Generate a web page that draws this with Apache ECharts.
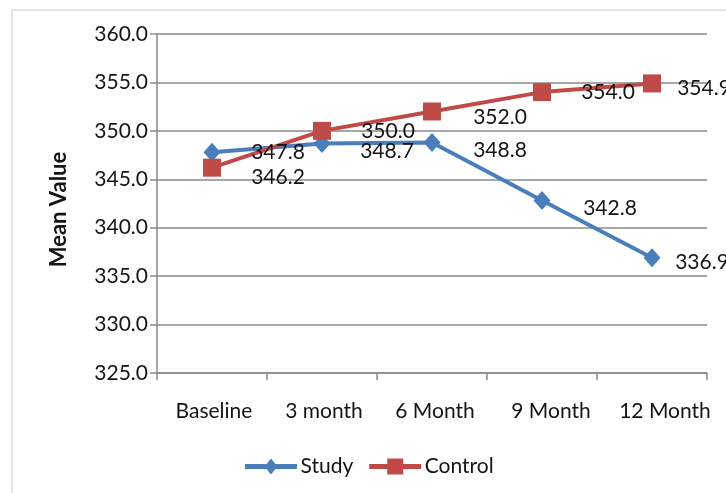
<!DOCTYPE html>
<html>
<head>
<meta charset="utf-8">
<script src="https://cdn.jsdelivr.net/npm/echarts@6/dist/echarts.min.js"></script>
<style>
  html, body { margin: 0; padding: 0; background: #ffffff; }
  #chart { width: 726px; height: 493px; }
</style>
</head>
<body>
<div id="chart"></div>
<script>
// Time points and mean values for the two groups
const categories = ['Baseline', '3 month', '6 Month', '9 Month', '12 Month'];
const studyValues = [347.8, 348.7, 348.8, 342.8, 336.9];
const controlValues = [346.2, 350.0, 352.0, 354.0, 354.9];

// Value axis range and tick step
const yMin = 325;
const yMax = 360;
const yStep = 5;

// Pixel offsets of each value label from its marker
const studyLabelOffsets = [[66, 0], [65, 8], [68, 8], [68, 8], [50, 4]];
const controlLabelOffsets = [[66, 10], [66, 0], [68, 6], [66, 0], [52, 5]];

const FONT = 'Lato';
const TEXT = '#141414';
const GRID = '#8a8a8a';
const BLUE = '#4a7ebb';
const RED = '#be4b48';

// Legend keys: a thick line segment with the series marker in the middle
const STUDY_ICON = 'path://M0,7.5 L52,7.5 L52,12.5 L0,12.5 Z M26,2 L32.5,10 L26,18 L19.5,10 Z';
const CONTROL_ICON = 'path://M0,7.5 L52,7.5 L52,12.5 L0,12.5 Z M18,2 L34,2 L34,18 L18,18 Z';

function buildData(values, offsets) {
  return values.map((v, i) => ({ value: v, label: { offset: offsets[i] } }));
}

const labelStyle = {
  show: true,
  position: 'inside',
  fontFamily: FONT,
  fontSize: 21,
  color: TEXT,
  formatter: p => Number(p.value).toFixed(1)
};

const chart = echarts.init(document.getElementById('chart'), null, { renderer: 'canvas' });

chart.setOption({
  animation: false,
  backgroundColor: '#ffffff',
  graphic: [{
    type: 'rect',
    shape: { x: 12, y: 10, width: 900, height: 700 },
    style: { fill: 'none', stroke: '#d9d9d9', lineWidth: 1.5 },
    silent: true,
    z: -10
  }],
  grid: { left: 157, top: 34, right: 19, bottom: 120 },
  legend: {
    left: 240,
    top: 451,
    itemWidth: 53,
    itemHeight: 16,
    itemGap: 16,
    textStyle: { fontFamily: FONT, fontSize: 21, color: TEXT, padding: [0, 0, 0, -2] },
    data: [
      { name: 'Study', icon: STUDY_ICON, itemStyle: { color: BLUE } },
      { name: 'Control', icon: CONTROL_ICON, itemStyle: { color: RED } }
    ]
  },
  xAxis: {
    type: 'category',
    data: categories,
    boundaryGap: true,
    axisLine: { lineStyle: { color: GRID, width: 1.5 } },
    axisTick: { show: true, length: 7, lineStyle: { color: GRID, width: 1.5 } },
    axisLabel: {
      interval: 0, fontFamily: FONT, fontSize: 21, color: TEXT, margin: 28,
      // slight rightward drift of the later category labels
      formatter: (v, i) => '{c' + i + '|' + v + '}',
      rich: {
        c0: { fontFamily: FONT, fontSize: 21, color: TEXT, padding: [0, 0, 0, 4] },
        c1: { fontFamily: FONT, fontSize: 21, color: TEXT, padding: [0, 0, 0, 4] },
        c2: { fontFamily: FONT, fontSize: 21, color: TEXT, padding: [0, 0, 0, 6] },
        c3: { fontFamily: FONT, fontSize: 21, color: TEXT, padding: [0, 0, 0, 18] },
        c4: { fontFamily: FONT, fontSize: 21, color: TEXT, padding: [0, 0, 0, 26] }
      }
    },
    splitLine: { show: false }
  },
  yAxis: {
    type: 'value',
    min: yMin,
    max: yMax,
    interval: yStep,
    name: 'Mean Value',
    nameLocation: 'middle',
    nameGap: 87,
    nameTextStyle: {
      fontFamily: FONT, fontSize: 22, fontWeight: 'bold', color: TEXT,
      padding: [0, 12, 0, 0]
    },
    axisLine: { show: true, lineStyle: { color: GRID, width: 1.5 } },
    axisTick: { show: true, length: 7, lineStyle: { color: GRID, width: 1.5 } },
    axisLabel: {
      fontFamily: FONT, fontSize: 21, color: TEXT, margin: 9,
      padding: [10, 0, 0, 0],
      formatter: v => v.toFixed(1)
    },
    splitLine: { show: true, lineStyle: { color: GRID, width: 1.5 } }
  },
  series: [
    {
      name: 'Study',
      type: 'line',
      data: buildData(studyValues, studyLabelOffsets),
      symbol: 'diamond',
      symbolSize: [17, 19],
      showAllSymbol: true,
      lineStyle: { color: BLUE, width: 4 },
      itemStyle: { color: BLUE },
      label: labelStyle,
      emphasis: { disabled: true }
    },
    {
      name: 'Control',
      type: 'line',
      data: buildData(controlValues, controlLabelOffsets),
      symbol: 'rect',
      symbolSize: 18,
      showAllSymbol: true,
      lineStyle: { color: RED, width: 4 },
      itemStyle: { color: RED },
      label: labelStyle,
      emphasis: { disabled: true }
    }
  ]
});
</script>
</body>
</html>
